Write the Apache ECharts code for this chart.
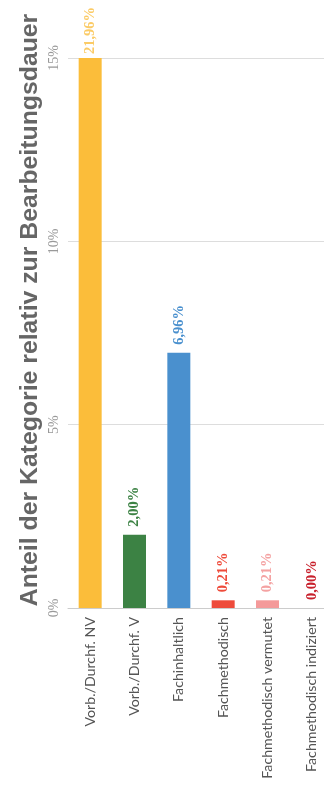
<!DOCTYPE html>
<html>
<head>
<meta charset="utf-8">
<script src="https://cdn.jsdelivr.net/npm/echarts@6/dist/echarts.min.js"></script>
<style>
  html, body { margin: 0; padding: 0; background: #fff; }
  #chart { width: 324px; height: 785px; }
</style>
</head>
<body>
<div id="chart"></div>
<script>
// Share of each category relative to processing time (percent)
const categories = [
  'Vorb./Durchf. NV',
  'Vorb./Durchf. V',
  'Fachinhaltlich',
  'Fachmethodisch',
  'Fachmethodisch vermutet',
  'Fachmethodisch indiziert'
];
const shares = [21.96, 2.00, 6.96, 0.21, 0.21, 0.00];
const barColors = ['#FBBD3A', '#3C8244', '#4A90CE', '#EE4B3B', '#F49A9A', '#C8202C'];
const labelColors = ['#FBCB66', '#3C8244', '#4A90CE', '#EE4B3B', '#F4A2A2', '#C8202C'];
const yTicks = [0, 5, 10, 15];
const titleText = 'Anteil der Kategorie relativ zur Bearbeitungsdauer';

const chart = echarts.init(document.getElementById('chart'), null, { renderer: 'canvas' });

const fmt = v => v.toFixed(2).replace('.', ',') + '%';

chart.setOption({
  animation: false,
  // the plot runs a little past the right edge of the page
  grid: {
    left: 68, width: 266, top: 58, bottom: 177,
    containLabel: false,
    outerBoundsMode: 'none'
  },
  graphic: [{
    type: 'text',
    x: 30,
    y: 310,
    rotation: Math.PI / 2,
    style: {
      text: titleText,
      fill: '#666',
      font: 'bold 24.8px "Liberation Sans", Arial, sans-serif',
      textAlign: 'center',
      textVerticalAlign: 'middle'
    }
  }],
  xAxis: {
    type: 'category',
    data: categories,
    axisLine: { show: true, lineStyle: { color: '#ccc', width: 1 } },
    axisTick: { show: false },
    axisLabel: {
      rotate: 90,
      margin: 9,
      color: '#555',
      fontFamily: 'Lato, sans-serif',
      fontSize: 14.2,
      interval: 0
    }
  },
  yAxis: {
    type: 'value',
    min: yTicks[0],
    max: yTicks[yTicks.length - 1],
    interval: 5,
    axisLine: { show: false },
    axisTick: { show: false },
    splitLine: { lineStyle: { color: '#ddd', width: 1 } },
    axisLabel: {
      rotate: 90,
      margin: 7,
      color: '#999',
      fontFamily: '"Liberation Serif", serif',
      fontSize: 14,
      formatter: v => v + '%'
    }
  },
  series: [{
    type: 'bar',
    barWidth: 23,
    clip: true,
    data: shares.map((v, i) => ({
      value: v,
      itemStyle: { color: barColors[i] },
      label: { color: labelColors[i], distance: i === 0 ? 4 : 8 }
    })),
    label: {
      show: true,
      position: 'top',
      rotate: 90,
      align: 'left',
      verticalAlign: 'middle',
      fontFamily: '"Liberation Serif", serif',
      fontWeight: 'bold',
      fontSize: 14.5,
      formatter: p => fmt(p.value)
    }
  }]
});
</script>
</body>
</html>
